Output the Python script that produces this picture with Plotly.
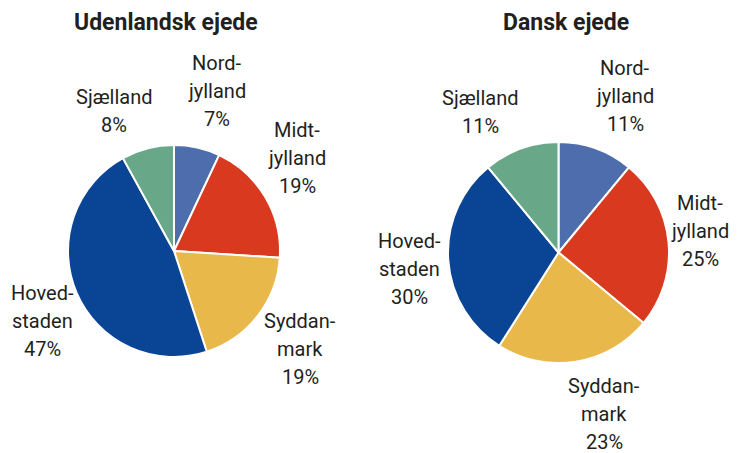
import plotly.graph_objects as go

W, H = 737, 453
OFF = 8  # page body margin

regions = ["Nordjylland", "Midtjylland", "Syddanmark", "Hovedstaden", "Sjælland"]
udenlandsk = [7, 19, 19, 47, 8]
dansk = [11, 25, 23, 30, 11]
colors = ["#4d6dac", "#d9391f", "#e8b84a", "#0a4494", "#68a888"]

label_lines = {
    "Nordjylland": ["Nord-", "jylland"],
    "Midtjylland": ["Midt-", "jylland"],
    "Syddanmark": ["Syddan-", "mark"],
    "Hovedstaden": ["Hoved-", "staden"],
    "Sjælland": ["Sjælland"],
}

# label anchor: center x, y of first line (screen pixels)
left_pos = {"Nordjylland": (217, 63), "Midtjylland": (297, 130), "Syddanmark": (300, 321),
            "Hovedstaden": (42, 293), "Sjælland": (114, 97)}
right_pos = {"Nordjylland": (625, 68), "Midtjylland": (700, 203), "Syddanmark": (604, 386),
             "Hovedstaden": (410, 241), "Sjælland": (480, 98)}

FONT = "Roboto, sans-serif"
LINE = 28


def pxx(x):
    return (x - OFF) / W


def pxy(y):
    return 1 - (y - OFF) / H


def dom(x0, x1, y0, y1):
    return dict(x=[pxx(x0), pxx(x1)], y=[pxy(y1), pxy(y0)])


fig = go.Figure()
for vals, d in [(udenlandsk, dom(67, 281, 145, 357)), (dansk, dom(448, 669, 142, 363))]:
    fig.add_trace(go.Pie(
        labels=regions, values=vals, sort=False, direction="clockwise", rotation=0,
        marker=dict(colors=colors, line=dict(color="white", width=2)),
        textinfo="none", hoverinfo="label+percent", domain=d, showlegend=False,
    ))

ann = []
for vals, pos in [(udenlandsk, left_pos), (dansk, right_pos)]:
    for r, v in zip(regions, vals):
        x, y = pos[r]
        lines = label_lines[r] + [f"{v}%"]
        for i, t in enumerate(lines):
            ann.append(dict(x=pxx(x), y=pxy(y + i * LINE), xref="paper", yref="paper",
                            text=t, showarrow=False, xanchor="center", yanchor="middle",
                            font=dict(family=FONT, size=20, color="#231f20")))

for txt, x in [("Udenlandsk ejede", 166), ("Dansk ejede", 566)]:
    ann.append(dict(x=pxx(x), y=1, xref="paper", yref="paper", text=f"<b>{txt}</b>",
                    showarrow=False, xanchor="center", yanchor="top", borderpad=0,
                    font=dict(family=FONT, size=23, color="#231f20")))

fig.update_layout(width=W, height=H, margin=dict(l=0, r=0, t=0, b=0),
                  paper_bgcolor="white", plot_bgcolor="white", annotations=ann)

fig.write_html("out.html")
